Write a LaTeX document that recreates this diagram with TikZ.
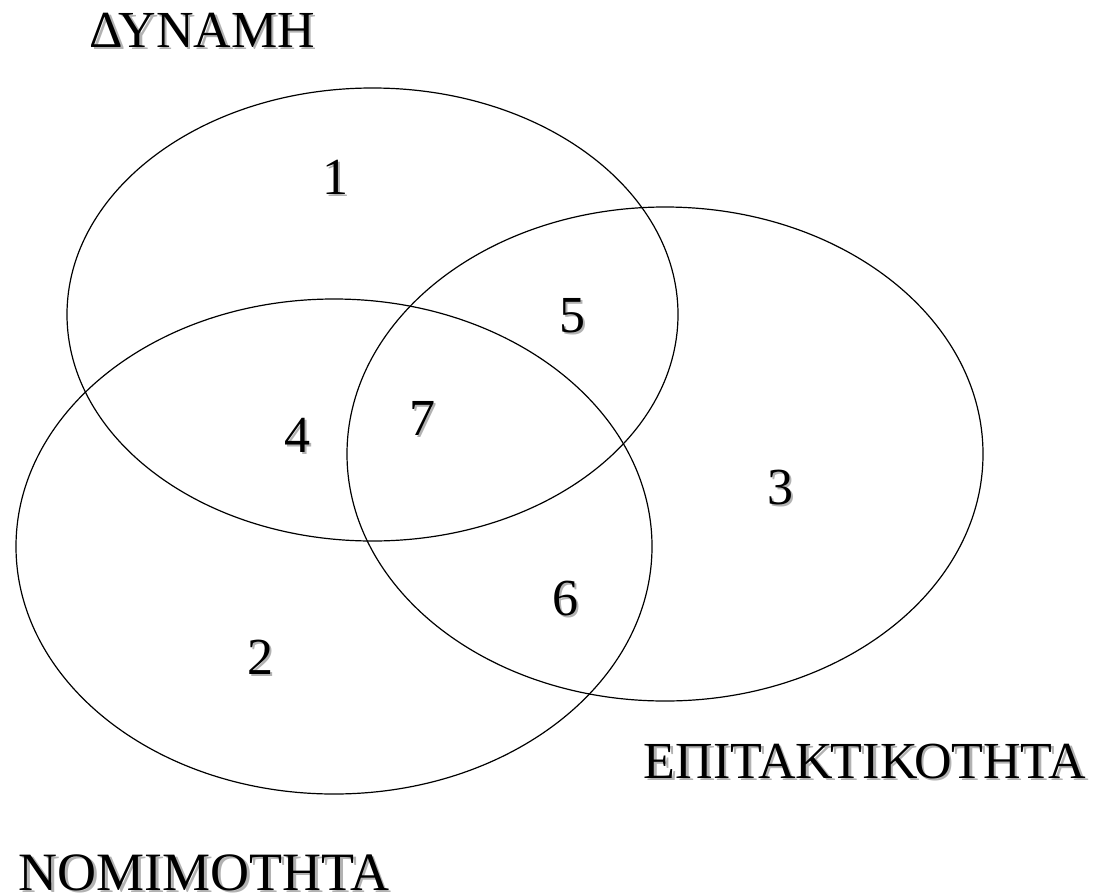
\documentclass[tikz,border=0pt]{standalone}
\usepackage{fontspec}
\setmainfont{Liberation Serif}
\newcommand{\shd}[1]{\makebox[0pt][l]{\hspace{2.5pt}\raisebox{-2.5pt}{\textcolor{black!30}{#1}}}#1}
\begin{document}
\begin{tikzpicture}[x=1pt,y=-1pt,
  ring/.style={draw=black,line width=1.2pt},
  lbl/.style={anchor=base,inner sep=0pt,font=\fontsize{52}{60}\selectfont}]
\useasboundingbox (0,0) rectangle (1107,894);
\draw[ring] (372.5,314.5) ellipse [x radius=305.5, y radius=226.5];
\draw[ring] (665,454) ellipse [x radius=318, y radius=247];
\draw[ring] (334,546.5) ellipse [x radius=318, y radius=247.5];
\node[lbl] (d) at (202.5,47) {\shd{ΔΥΝΑΜΗ}};
\node[lbl] (e) at (865,778) {\shd{ΕΠΙΤΑΚΤΙΚΟΤΗΤΑ}};
\node[lbl,font=\fontsize{54}{60}\selectfont] (n) at (204,890) {\shd{ΝΟΜΙΜΟΤΗΤΑ}};
\node[lbl] (n1) at (335,194) {\shd{1}};
\node[lbl] (n2) at (260,674) {\shd{2}};
\node[lbl] (n3) at (780,504) {\shd{3}};
\node[lbl] (n4) at (297,452) {\shd{4}};
\node[lbl] (n5) at (572,332) {\shd{5}};
\node[lbl] (n6) at (565,615) {\shd{6}};
\node[lbl] (n7) at (422,435) {\shd{7}};
\end{tikzpicture}
\end{document}
